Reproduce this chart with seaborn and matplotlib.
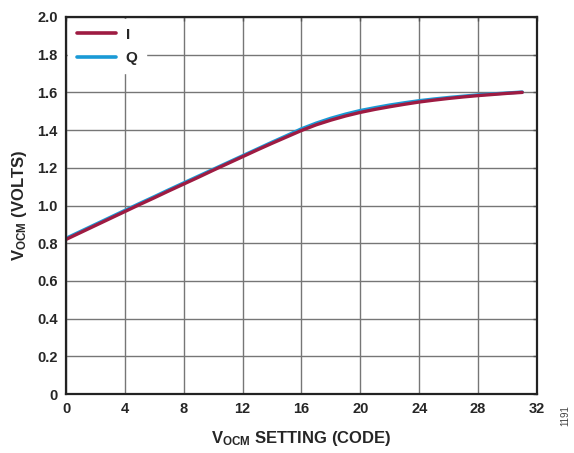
import matplotlib
matplotlib.use("Agg")
import matplotlib.pyplot as plt
from matplotlib.lines import Line2D
import pandas as pd
import seaborn as sns

# V_OCM output vs. V_OCM setting code, I and Q channels
codes = list(range(32))
vocm_i = [0.820, 0.857, 0.894, 0.931, 0.968, 1.005, 1.041, 1.078,
          1.114, 1.150, 1.187, 1.223, 1.259, 1.295, 1.330, 1.364,
          1.398, 1.428, 1.453, 1.475, 1.494, 1.510, 1.524, 1.537,
          1.549, 1.559, 1.568, 1.576, 1.583, 1.589, 1.595, 1.600]
vocm_q = [0.826, 0.863, 0.900, 0.937, 0.974, 1.011, 1.047, 1.084,
          1.120, 1.156, 1.192, 1.228, 1.264, 1.300, 1.336, 1.371,
          1.407, 1.437, 1.463, 1.485, 1.504, 1.519, 1.533, 1.545,
          1.556, 1.565, 1.573, 1.580, 1.587, 1.592, 1.597, 1.602]
x_ticks = [0, 4, 8, 12, 16, 20, 24, 28, 32]
y_ticks = [0, 0.2, 0.4, 0.6, 0.8, 1.0, 1.2, 1.4, 1.6, 1.8, 2.0]
y_tick_labels = ["0", "0.2", "0.4", "0.6", "0.8", "1.0", "1.2", "1.4", "1.6", "1.8", "2.0"]

sns.set_theme(style="white")
plt.rcParams["font.family"] = ["Liberation Sans", "DejaVu Sans"]
plt.rcParams["mathtext.fontset"] = "custom"
plt.rcParams["mathtext.rm"] = "Liberation Sans:bold"
plt.rcParams["mathtext.bf"] = "Liberation Sans:bold"
plt.rcParams["mathtext.it"] = "Liberation Sans:bold"

df = pd.DataFrame({
    "code": codes * 2,
    "vocm": vocm_q + vocm_i,
    "channel": ["Q"] * len(codes) + ["I"] * len(codes),
})

fig = plt.figure(figsize=(5.74, 4.53), dpi=100)
ax = fig.add_axes([0.115, 0.1302, 0.8205, 0.8323])

palette = {"I": "#9E1B42", "Q": "#1A9AD6"}
sns.lineplot(data=df, x="code", y="vocm", hue="channel", palette=palette,
             linewidth=2.4, ax=ax, legend=False, zorder=3)

ax.set_xlim(0, 32)
ax.set_ylim(0, 2.0)
ax.set_xticks(x_ticks)
ax.set_xticklabels([str(t) for t in x_ticks], fontsize=10.5, fontweight="bold")
ax.set_yticks(y_ticks)
ax.set_yticklabels(y_tick_labels, fontsize=10.5, fontweight="bold")
ax.tick_params(axis="both", direction="in", length=3, width=1, color="#555555",
               top=True, right=True, pad=6)
ax.grid(True, color="#767676", linewidth=1.0)
ax.set_axisbelow(True)
for sp in ax.spines.values():
    sp.set_color("#222222")
    sp.set_linewidth(1.6)
    sp.set_zorder(5)

ax.set_xlabel(r"$\mathbf{V_{OCM}}$ SETTING (CODE)", fontsize=12, fontweight="bold", labelpad=9)
ax.set_ylabel(r"$\mathbf{V_{OCM}}$ (VOLTS)", fontsize=12, fontweight="bold", labelpad=6)

handles = [Line2D([], [], color=palette["I"], linewidth=2.6),
           Line2D([], [], color=palette["Q"], linewidth=2.6)]
leg = ax.legend(handles, ["I", "Q"], loc="upper left", frameon=True,
                prop={"weight": "bold", "size": 11}, handlelength=2.6,
                handletextpad=0.6, labelspacing=0.6, borderpad=0.55,
                borderaxespad=0.15, fancybox=False)
leg.get_frame().set_facecolor("white")
leg.get_frame().set_edgecolor("white")
leg.get_frame().set_alpha(1.0)
leg.set_zorder(4)

fig.text(0.985, 0.06, "1191", rotation=90, fontsize=7, color="#444444",
         ha="center", va="bottom")

fig.savefig("out.png", dpi=100)
